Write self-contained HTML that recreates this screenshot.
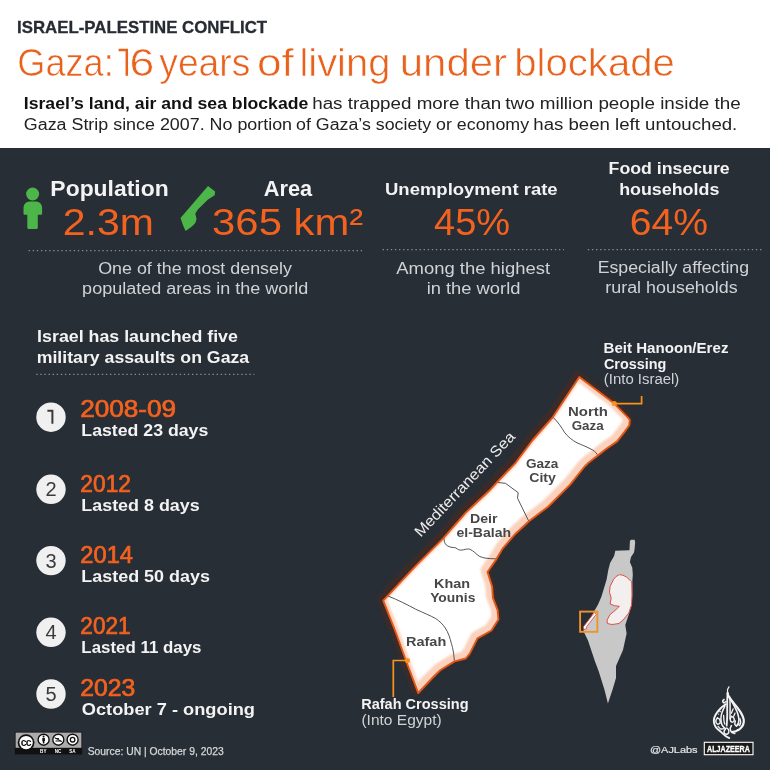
<!DOCTYPE html>
<html lang="en">
<head>
<meta charset="utf-8">
<title>Gaza: 16 years of living under blockade</title>
<style>
html,body{margin:0;padding:0;background:#ffffff;}
body{width:770px;height:770px;overflow:hidden;}
svg{display:block;will-change:transform;}
text{font-family:"Liberation Sans",sans-serif;}
.b{font-weight:700;}
.w{fill:#f3f3f3;}
.g{fill:#d0d3d6;}
.o{fill:#f4621f;}
.oy{fill:#f4621f;stroke:#f4621f;stroke-width:0.7px;}
.m{fill:#474747;font-weight:700;font-size:12.6px;}
</style>
</head>
<body>
<svg width="770" height="770" viewBox="0 0 770 770">
<defs>
<clipPath id="gz"><use href="#gazaShape"/></clipPath>
<filter id="bl" x="-20%" y="-20%" width="140%" height="140%"><feGaussianBlur stdDeviation="1.2"/></filter>
<filter id="bl0" x="-20%" y="-20%" width="140%" height="140%"><feGaussianBlur stdDeviation="0.7"/></filter>
<filter id="bl2" x="-20%" y="-20%" width="140%" height="140%"><feGaussianBlur stdDeviation="1.4"/></filter>
<polygon id="gazaShape" points="579.3,377.1 614.3,403.6 627.8,417.3 629.8,419.8 629.3,425.3 624.3,432.1 617.1,441.4 606.0,449.0 598.1,455.3 588.1,463.1 584.6,466.5 570.1,484.6 548.3,506.5 529.2,521.0 515.5,533.7 502.8,548.3 496.1,559.6 487.5,572.0 492.2,586.8 492.9,597.8 497.6,610.2 498.4,619.6 491.4,630.5 477.4,638.3 469.6,653.9 465.7,658.5 454.5,661.4 440.5,670.0 433.8,676.5 418.2,693.0 409.5,670.0 405.9,660.5 396.0,633.0 383.2,600.6 416.0,565.6 443.2,538.3 465.8,512.6 489.2,490.8 497.4,481.9 515.6,462.8 532.7,440.0 552.9,417.1"/>
</defs>

<!-- backgrounds -->
<rect x="0" y="0" width="770" height="148" fill="#ffffff"/>
<rect x="0" y="148" width="770" height="622" fill="#282e36"/>

<!-- header -->
<text x="17.08" y="33.4" font-size="17" class="b" fill="#272b33" stroke="#272b33" stroke-width="0.3" textLength="250.00" lengthAdjust="spacingAndGlyphs">ISRAEL-PALESTINE CONFLICT</text>
<g font-size="38.5" fill="#e8621d" stroke="#ffffff" stroke-width="0.6">
<text x="17.28" y="75.7" textLength="96.42" lengthAdjust="spacingAndGlyphs">Gaza:</text>
<path d="M118.6 50 H126.8 V75.7" fill="none" stroke="#e8621d" stroke-width="2.5"/>
<text x="129.43" y="75.7" textLength="24.83" lengthAdjust="spacingAndGlyphs">6</text>
<text x="159.31" y="75.7" textLength="90.93" lengthAdjust="spacingAndGlyphs">years</text>
<text x="256.94" y="75.7" textLength="36.89" lengthAdjust="spacingAndGlyphs">of</text>
<text x="299.41" y="75.7" textLength="90.96" lengthAdjust="spacingAndGlyphs">living</text>
<text x="399.77" y="75.7" textLength="107.32" lengthAdjust="spacingAndGlyphs">under</text>
<text x="514.21" y="75.7" textLength="160.67" lengthAdjust="spacingAndGlyphs">blockade</text>
</g>
<text x="23.82" y="108.6" font-size="15.8" class="b" fill="#111" textLength="284.48" lengthAdjust="spacingAndGlyphs">Israel’s land, air and sea blockade</text>
<text x="312.20" y="108.6" font-size="15.8" fill="#222" textLength="189.12" lengthAdjust="spacingAndGlyphs">has trapped more than</text>
<text x="505.32" y="108.6" font-size="15.8" fill="#222" textLength="235.42" lengthAdjust="spacingAndGlyphs">two million people inside the</text>
<text x="23.80" y="129.9" font-size="15.8" fill="#222" textLength="268.26" lengthAdjust="spacingAndGlyphs">Gaza Strip since 2007. No portion</text>
<text x="296.05" y="129.9" font-size="15.8" fill="#222" textLength="232.98" lengthAdjust="spacingAndGlyphs">of Gaza’s society or economy</text>
<text x="533.31" y="129.9" font-size="15.8" fill="#222" textLength="203.99" lengthAdjust="spacingAndGlyphs">has been left untouched.</text>

<!-- stats row -->
<g id="person" fill="#4cb648">
<circle cx="32.6" cy="194" r="6.5"/>
<path d="M23.5 207.6 a6 6 0 0 1 6 -6 H36.1 a6 6 0 0 1 6 6 V213.5 a1.2 1.2 0 0 1 -1.2 1.2 H37.8 V227.5 a1.5 1.5 0 0 1 -1.5 1.5 H28.8 a1.5 1.5 0 0 1 -1.5 -1.5 V214.7 H24.7 a1.2 1.2 0 0 1 -1.2 -1.2 Z"/>
</g>
<text x="50.37" y="195.9" font-size="21.6" class="b w" textLength="118.35" lengthAdjust="spacingAndGlyphs">Population</text>
<text x="62.84" y="235.4" font-size="36.2" class="o" textLength="91.06" lengthAdjust="spacingAndGlyphs">2.3m</text>

<polygon id="gazaIcon" fill="#4cb648" points="208,186 215.1,191.5 214.7,195.3 208,199.5 197.8,209.6 195.3,213.8 196.6,218.9 195.3,223.1 191.9,226.5 185.6,231.1 183.1,225.6 180.5,218"/>
<text x="263.76" y="195.9" font-size="21.6" class="b w" textLength="48.40" lengthAdjust="spacingAndGlyphs">Area</text>
<text x="212.11" y="235.4" font-size="36.2" class="o" textLength="151.09" lengthAdjust="spacingAndGlyphs">365 km²</text>

<line x1="28.6" y1="250.7" x2="362" y2="250.7" stroke="#858b92" stroke-width="1.2" stroke-dasharray="1.4 2.7"/>
<text x="98.15" y="274.3" font-size="15.6" class="g" textLength="193.78" lengthAdjust="spacingAndGlyphs">One of the most densely</text>
<text x="82.14" y="294.1" font-size="15.6" class="g" textLength="226.12" lengthAdjust="spacingAndGlyphs">populated areas in the world</text>

<text x="384.99" y="195" font-size="16" class="b w" textLength="172.64" lengthAdjust="spacingAndGlyphs">Unemployment rate</text>
<text x="434.03" y="234.6" font-size="36.2" class="o" textLength="76.03" lengthAdjust="spacingAndGlyphs">45%</text>
<line x1="382.6" y1="249.7" x2="564" y2="249.7" stroke="#858b92" stroke-width="1.2" stroke-dasharray="1.4 2.7"/>
<text x="396.26" y="274.3" font-size="15.6" class="g" textLength="153.77" lengthAdjust="spacingAndGlyphs">Among the highest</text>
<text x="426.67" y="294.1" font-size="15.6" class="g" textLength="93.81" lengthAdjust="spacingAndGlyphs">in the world</text>

<text x="608.61" y="173.5" font-size="16" class="b w" textLength="121.09" lengthAdjust="spacingAndGlyphs">Food insecure</text>
<text x="619.15" y="194.9" font-size="16" class="b w" textLength="100.18" lengthAdjust="spacingAndGlyphs">households</text>
<text x="629.71" y="234.6" font-size="36.2" class="o" textLength="78.28" lengthAdjust="spacingAndGlyphs">64%</text>
<line x1="587.8" y1="249.7" x2="764" y2="249.7" stroke="#858b92" stroke-width="1.2" stroke-dasharray="1.4 2.7"/>
<text x="597.65" y="272.9" font-size="15.6" class="g" textLength="151.39" lengthAdjust="spacingAndGlyphs">Especially affecting</text>
<text x="605.31" y="292.6" font-size="15.6" class="g" textLength="132.34" lengthAdjust="spacingAndGlyphs">rural households</text>

<!-- assaults list -->
<text x="37.11" y="341.7" font-size="17.2" class="b w" textLength="200.80" lengthAdjust="spacingAndGlyphs">Israel has launched five</text>
<text x="36.73" y="363.1" font-size="17.2" class="b w" textLength="212.45" lengthAdjust="spacingAndGlyphs">military assaults on Gaza</text>
<line x1="36.2" y1="374.4" x2="254.4" y2="374.4" stroke="#858b92" stroke-width="1.2" stroke-dasharray="1.4 2.7"/>

<g fill="#f0f0f0">
<circle cx="51" cy="417.2" r="14.7"/>
<circle cx="51" cy="489.3" r="14.7"/>
<circle cx="51" cy="560.6" r="14.7"/>
<circle cx="51" cy="632.3" r="14.7"/>
<circle cx="51" cy="694" r="14.7"/>
</g>
<g font-size="20" fill="#3a3a3a" text-anchor="middle">
<path d="M47.4 410.8 H52.4 V423.8" fill="none" stroke="#3a3a3a" stroke-width="2"/>
<text x="51" y="496">2</text>
<text x="51" y="567.6">3</text>
<text x="51" y="639.3">4</text>
<text x="51" y="701">5</text>
</g>
<g font-size="23" class="oy">
<text x="80.19" y="417.4" textLength="95.95" lengthAdjust="spacingAndGlyphs">2008-09</text>
<text x="80.36" y="492.4" textLength="50.59" lengthAdjust="spacingAndGlyphs">2012</text>
<text x="80.31" y="562.7" textLength="52.68" lengthAdjust="spacingAndGlyphs">2014</text>
<text x="80.36" y="634.3" textLength="50.24" lengthAdjust="spacingAndGlyphs">2021</text>
<text x="80.26" y="696" textLength="55.03" lengthAdjust="spacingAndGlyphs">2023</text>
</g>
<g font-size="15.8" class="b w">
<text x="81.32" y="436.2" textLength="127.01" lengthAdjust="spacingAndGlyphs">Lasted 23 days</text>
<text x="81.30" y="511" textLength="118.43" lengthAdjust="spacingAndGlyphs">Lasted 8 days</text>
<text x="81.30" y="581.8" textLength="128.64" lengthAdjust="spacingAndGlyphs">Lasted 50 days</text>
<text x="81.38" y="652.8" textLength="120.11" lengthAdjust="spacingAndGlyphs">Lasted 11 days</text>
<text x="81.75" y="715.1" textLength="173.27" lengthAdjust="spacingAndGlyphs">October 7 - ongoing</text>
</g>

<!-- Gaza map -->
<g id="gazaMap">
<use href="#gazaShape" transform="translate(-2,-2)" fill="#3d2c27" stroke="#3d2c27" stroke-width="8" stroke-linejoin="round" filter="url(#bl2)"/>
<use href="#gazaShape" fill="#ffffff"/>
<g clip-path="url(#gz)">
<use href="#gazaShape" transform="translate(-2,-2)" fill="none" stroke="#fbd2bd" stroke-width="10" stroke-linejoin="round" filter="url(#bl)"/>
<g fill="none" stroke="#4d4d4d" stroke-width="0.95">
<path d="M550 414.5 L552.9 417.1 C558 422 562 428 564.3 432.1 C568 437 572 440 577.1 442.9 C582 445 586 446.5 590 448.6 C594 450.5 595.5 452 597.1 454.3 L599 457"/>
<path d="M495 482.2 L505.5 483.3 L518.2 492.7 L517.5 498.2 L528.2 520 L530 523.5"/>
<path d="M443.5 536 L444 539.1 C444.5 543 445.5 545 447.9 546.1 C452 548.5 455 546.5 457.3 548.9 C461 552 466 548 469.7 549.2 C474 551 476 554 479.1 556.2 C484 558.5 488 558.5 495.1 558.8 L499 559"/>
<path d="M384 594.5 L388 596 C398 600 408 605 415.6 609.2 C424 613 430 615.5 435.8 618.6 C440 621.5 443 624.5 445.2 627.9 C448.5 633 450 638 451.4 643.5 C453 649 454 654 454.6 664"/>
</g>
</g>
<use href="#gazaShape" fill="none" stroke="#e2571a" stroke-width="1.9" stroke-linejoin="round"/>
</g>

<!-- map labels -->
<text class="m" x="568.00" y="415.7" textLength="39.83" lengthAdjust="spacingAndGlyphs">North</text>
<text class="m" x="571.75" y="430.2" textLength="31.86" lengthAdjust="spacingAndGlyphs">Gaza</text>
<text class="m" x="525.94" y="468" textLength="32.47" lengthAdjust="spacingAndGlyphs">Gaza</text>
<text class="m" x="529.22" y="481.9" textLength="26.65" lengthAdjust="spacingAndGlyphs">City</text>
<text class="m" x="469.95" y="523.3" textLength="27.56" lengthAdjust="spacingAndGlyphs">Deir</text>
<text class="m" x="456.45" y="537.4" textLength="54.72" lengthAdjust="spacingAndGlyphs">el-Balah</text>
<text class="m" x="434.14" y="588.2" textLength="36.06" lengthAdjust="spacingAndGlyphs">Khan</text>
<text class="m" x="430.17" y="601.7" textLength="45.19" lengthAdjust="spacingAndGlyphs">Younis</text>
<text class="m" x="406.03" y="646.1" textLength="40.27" lengthAdjust="spacingAndGlyphs">Rafah</text>

<text transform="translate(421.6,536.8) rotate(-46.5)" x="-1.33" y="0" font-size="15" fill="#ececec" textLength="138.33" lengthAdjust="spacingAndGlyphs">Mediterranean Sea</text>

<!-- crossings -->
<g fill="none" stroke="#f7941d" stroke-width="1.7">
<path d="M614.3 403.6 H641.6 V396"/>
<path d="M407.5 660.5 H393.3 V697"/>
</g>
<circle cx="614.3" cy="403.6" r="2.5" fill="#f7941d"/>
<circle cx="407.5" cy="660.5" r="2.5" fill="#f7941d"/>

<text x="603.49" y="353.4" font-size="13.8" class="b w" textLength="124.96" lengthAdjust="spacingAndGlyphs">Beit Hanoon/Erez</text>
<text x="603.91" y="368.8" font-size="13.8" class="b w" textLength="62.35" lengthAdjust="spacingAndGlyphs">Crossing</text>
<text x="603.87" y="384.2" font-size="13.8" class="g" textLength="75.45" lengthAdjust="spacingAndGlyphs">(Into Israel)</text>
<text x="361.23" y="709.2" font-size="14.5" class="b w" textLength="107.34" lengthAdjust="spacingAndGlyphs">Rafah Crossing</text>
<text x="361.44" y="725.2" font-size="14.5" class="g" textLength="80.22" lengthAdjust="spacingAndGlyphs">(Into Egypt)</text>

<!-- mini locator map -->
<g id="mini">
<path fill="#c8c8c8" d="M629.9 541 L631 539.8 L634.5 539.8 L635.2 542 L634.6 549 L634 552.5 L631 557 L629.9 561.9 L632.3 567.7 L632.8 574.7 L632.3 581.7 L632.3 595 L631.7 605 L628.8 614.5 L625.3 625 L626.6 633.5 L623 650 L616 666 L616 678 L612.6 689.6 L607.9 703.6 L604.4 689.6 L598.6 671 L595 661.5 L588 640.5 L583.4 631 L594.3 611 L597.8 605.1 L601.3 596.9 L604.2 587.6 L606.6 579.4 L608.3 570.1 L610.1 563 L614.1 556 L615.3 550.8 L622 550.5 L629.5 550.2 Z"/>
<path fill="#f3efef" stroke="#e2504a" stroke-width="1" stroke-linejoin="round" d="M619.4 574.7 L623 575.2 L626.4 577 L631.7 581.7 L632 595 L631.5 605 L628.8 613 L624 619 L619 623.5 L612 624.5 L607.3 623.5 L607.1 620 L610.1 614.5 L615.9 609.8 L619.4 606.3 L614.7 605.7 L610.1 604 L611.2 598.1 L609.5 592.3 L610.1 586.4 L613.6 579.4 L616 576.5 Z"/>
<path fill="#ffffff" stroke="#e2504a" stroke-width="0.9" stroke-linejoin="round" d="M594.4 612.6 L596.3 614.3 L587 626.2 L586.2 629 L583.8 629.6 L583.4 626.8 Z"/>
<rect x="580.1" y="611.6" width="17.3" height="20.2" fill="none" stroke="#f0932b" stroke-width="1.9"/>
</g>

<!-- footer -->
<g id="cc">
<rect x="14.8" y="731.8" width="67.4" height="22.6" fill="#111"/>
<rect x="15.6" y="732.6" width="65.8" height="15.2" fill="#ababab"/>
<circle cx="26.1" cy="742.6" r="8.4" fill="#111"/>
<circle cx="26.1" cy="742.6" r="6.7" fill="#fff"/>
<text x="25.8" y="746.2" font-size="10.5" class="b" fill="#111" text-anchor="middle" letter-spacing="-0.7">cc</text>
<g fill="#fff" stroke="#111" stroke-width="1.4">
<circle cx="43.6" cy="739.7" r="5.5"/>
<circle cx="58.3" cy="739.7" r="5.5"/>
<circle cx="72.6" cy="739.7" r="5.5"/>
</g>
<circle cx="43.6" cy="736.6" r="1" fill="#111"/>
<rect x="42.3" y="737.9" width="2.6" height="3.2" fill="#111"/>
<rect x="42.8" y="740.5" width="1.6" height="3" fill="#111"/>
<path d="M54.5 737.6 L62 741.6 M55.5 741 H61 M55.5 738.6 H59" stroke="#111" stroke-width="1" fill="none"/>
<circle cx="72.6" cy="739.7" r="2.3" fill="none" stroke="#111" stroke-width="1.3"/>
<g font-size="4.6" class="b" fill="#fff" text-anchor="middle">
<text x="43.3" y="753.2">BY</text>
<text x="58.1" y="753.2">NC</text>
<text x="72.4" y="753.2">SA</text>
</g>
</g>
<text x="87.73" y="754.6" font-size="10.4" class="g" stroke="#dedede" stroke-width="0.25" textLength="135.92" lengthAdjust="spacingAndGlyphs">Source: UN | October 9, 2023</text>

<text x="650.04" y="753.1" font-size="9.6" fill="#e2e2e2" stroke="#e2e2e2" stroke-width="0.2" textLength="47.55" lengthAdjust="spacingAndGlyphs">@AJLabs</text>
<rect x="704.3" y="742.3" width="48.7" height="12.4" fill="#1a1a1a" stroke="#ffffff" stroke-width="1.1"/>
<text x="707.12" y="751.6" font-size="8.4" class="b" fill="#fff" stroke="#fff" stroke-width="0.3" textLength="42.77" lengthAdjust="spacingAndGlyphs">ALJAZEERA</text>

<g id="ajlogo" fill="none" stroke="#f4f4f4" stroke-linecap="round" stroke-linejoin="round">
<path stroke-width="1.2" d="M729.0 686.8 C728.8 687.3 727.9 688.4 727.6 689.4 C727.4 690.4 727.6 692.3 727.6 692.9"/>
<path stroke-width="2.2" d="M727.6 692.9 C727.8 693.4 727.7 694.7 728.4 696.0 C729.1 697.3 730.4 698.9 731.8 700.7 C733.2 702.5 735.2 704.8 736.8 706.9 C738.4 709.1 740.2 711.5 741.4 713.6 C742.5 715.6 743.4 717.6 743.7 719.4 C744.0 721.2 743.8 722.9 743.2 724.5 C742.6 726.0 741.4 727.6 740.1 728.8 C738.9 729.9 737.0 730.7 735.7 731.3 C734.3 731.8 732.7 731.9 732.2 732.0"/>
<path stroke-width="1.9" d="M725.8 704.2 C724.9 704.9 722.2 706.7 720.5 708.5 C718.8 710.3 716.7 712.7 715.6 714.7 C714.4 716.8 713.7 718.9 713.8 721.0 C713.8 723.0 714.6 725.4 715.8 727.2 C717.0 729.0 719.2 730.4 720.9 731.9 C722.5 733.4 724.5 735.2 725.9 736.2 C727.3 737.2 728.7 737.7 729.2 738.0"/>
<path stroke-width="1.6" d="M729.2 696.4 C729.8 697.6 731.7 701.0 732.9 703.4 C734.2 705.8 735.7 708.6 736.7 710.8 C737.6 713.1 738.3 715.1 738.6 717.1 C739.0 719.0 739.0 721.0 738.6 722.5 C738.3 724.0 736.8 725.5 736.4 726.0"/>
<path stroke-width="1.8" d="M727.5 693.7 C727.4 695.6 727.2 701.6 727.2 705.4 C727.1 709.1 727.3 712.9 727.2 716.3 C727.1 719.7 726.8 724.1 726.7 725.6"/>
<path stroke-width="1.5" d="M730.0 698.8 C730.0 700.3 730.1 704.4 730.1 707.7 C730.1 711.0 730.0 716.8 730.0 718.6"/>
<path stroke-width="1.5" d="M724.8 706.2 C724.3 707.2 722.7 710.3 722.0 712.4 C721.4 714.5 720.9 716.6 720.9 718.6 C720.9 720.7 721.3 723.2 722.0 724.9 C722.8 726.6 725.0 728.1 725.5 728.8"/>
<path stroke-width="1.5" d="M717.4 717.9 C717.1 718.4 715.8 719.9 715.8 721.0 C715.8 722.0 716.6 723.8 717.4 724.1 C718.1 724.4 719.7 723.7 720.1 722.9 C720.5 722.1 720.1 720.3 719.7 719.4 C719.2 718.6 717.7 718.1 717.4 717.9"/>
<path stroke-width="1.5" d="M725.5 728.8 C725.3 729.3 723.9 731.0 724.0 731.9 C724.0 732.8 725.1 734.1 725.9 734.2 C726.7 734.4 728.2 733.4 728.7 732.7 C729.1 731.9 728.7 730.3 728.4 729.5 C728.1 728.8 727.0 728.2 726.7 728.0"/>
<path stroke-width="1.5" d="M731.4 716.3 C731.2 716.8 730.1 718.4 730.2 719.4 C730.3 720.4 731.1 721.9 731.8 722.1 C732.4 722.4 733.8 721.7 734.1 721.0 C734.4 720.3 734.2 718.6 733.7 717.9 C733.3 717.1 731.8 716.6 731.4 716.3"/>
<path stroke-width="1.5" d="M735.3 721.0 C735.2 721.6 734.6 723.7 734.9 724.5 C735.2 725.3 736.5 725.8 737.2 725.6 C737.9 725.5 738.7 724.0 739.0 723.7"/>
<path stroke-width="1.6" d="M724.0 699.5 C723.8 699.8 722.7 700.5 722.7 701.1 C722.7 701.7 723.5 702.8 724.0 702.9 C724.4 703.0 725.1 702.0 725.3 701.9"/>
<path stroke-width="1.5" d="M731.4 725.6 C731.2 726.2 730.2 727.7 730.2 728.8 C730.2 729.8 730.8 731.2 731.4 731.9 C732.0 732.6 733.3 732.9 733.7 733.1"/>
<path stroke-width="1.3" d="M733.1 708.9 C732.8 709.6 731.7 712.5 731.4 713.2"/>
<path stroke-width="1.3" d="M735.0 713.2 C734.8 713.7 733.9 715.8 733.7 716.3"/>
<path stroke-width="1.4" d="M718.1 726.4 C718.5 726.8 719.6 728.4 720.5 728.8 C721.4 729.2 723.1 728.8 723.6 728.8"/>
<path stroke-width="1.3" d="M723.6 715.5 C723.7 716.4 723.8 719.5 724.0 721.0 C724.2 722.4 724.6 723.6 724.8 724.1"/>
<path stroke-width="1.3" d="M740.0 718.6 C740.1 719.3 740.8 721.4 740.7 722.5 C740.7 723.7 739.8 725.1 739.6 725.6"/>
<circle cx="720.1" cy="711.6" r="0.8" fill="#f4f4f4" stroke="none"/>
<circle cx="718.5" cy="714.1" r="0.7" fill="#f4f4f4" stroke="none"/>
<circle cx="734.7" cy="733.6" r="0.8" fill="#f4f4f4" stroke="none"/>
<circle cx="726.1" cy="701.5" r="0.7" fill="#f4f4f4" stroke="none"/>
<circle cx="737.6" cy="729.5" r="0.6" fill="#f4f4f4" stroke="none"/>
</g>
</svg>
</body>
</html>
